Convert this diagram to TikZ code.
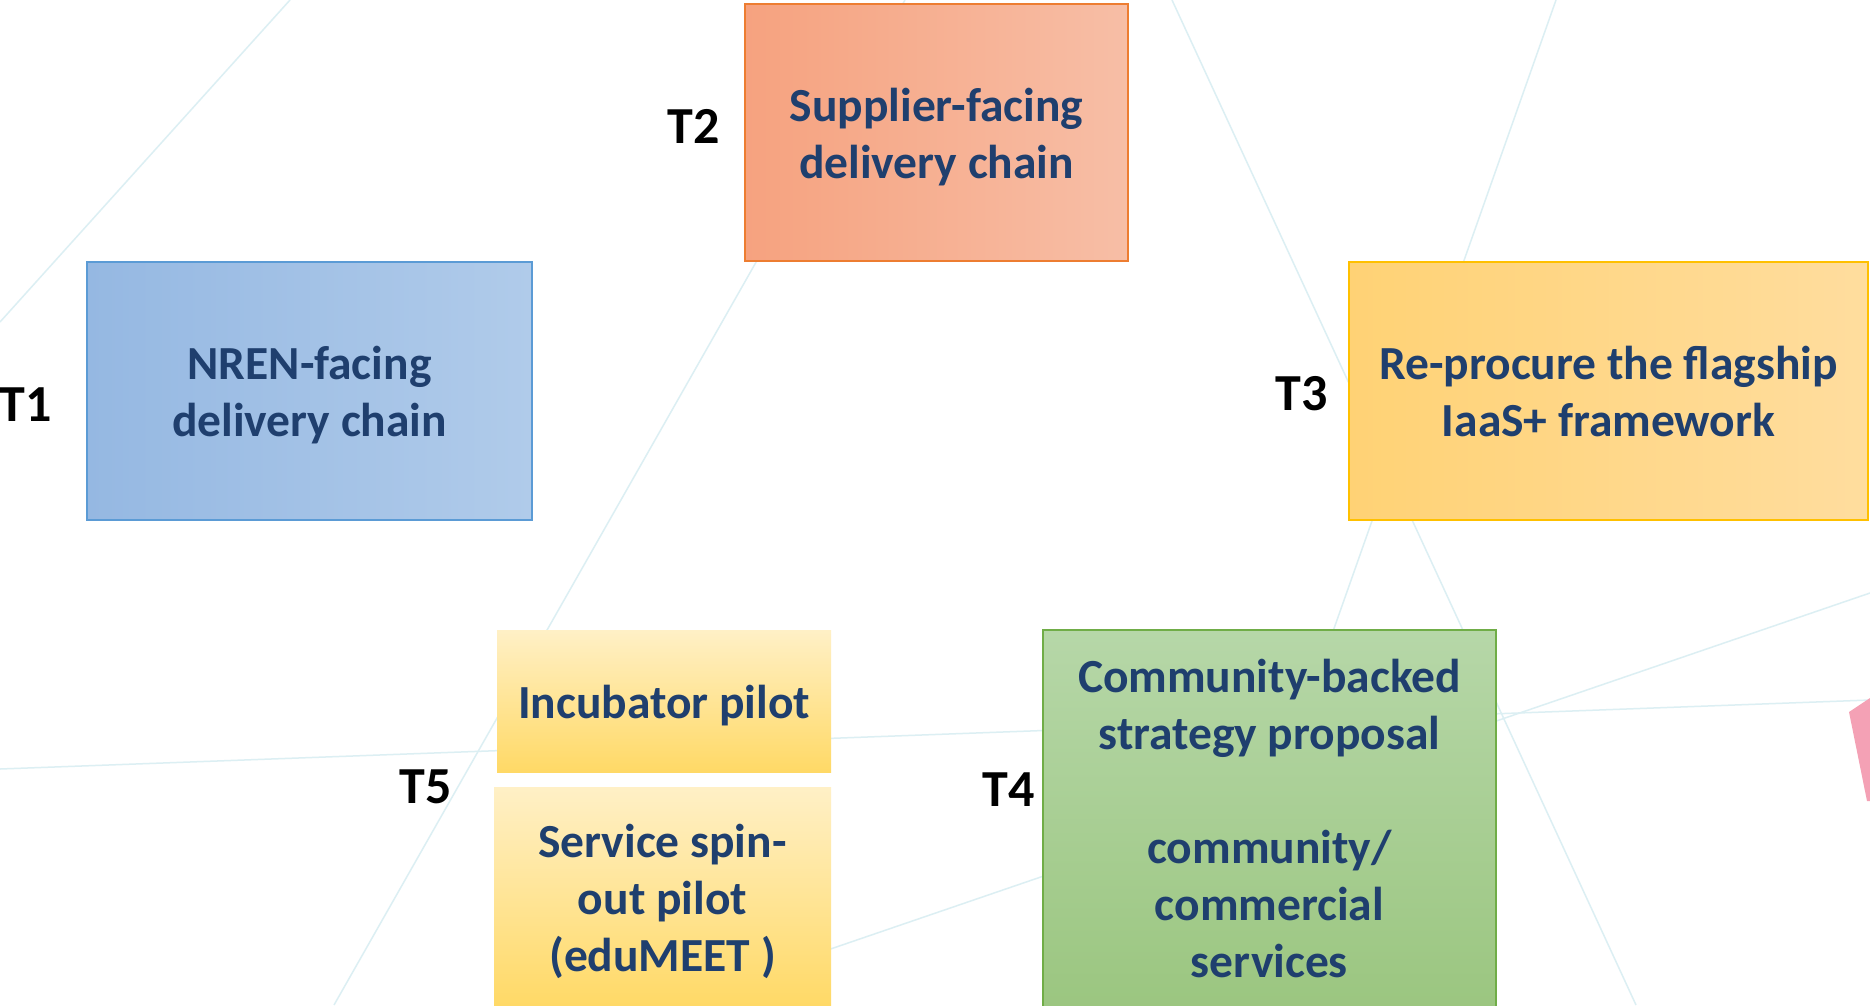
\documentclass[tikz,border=0pt]{standalone}
\usepackage{fontspec}
\setmainfont{Carlito}
\definecolor{txtblue}{HTML}{1F3F6E}
\definecolor{bgline}{HTML}{DCEFF3}
\definecolor{blueL}{HTML}{95B8E2}
\definecolor{blueR}{HTML}{B0CBEA}
\definecolor{blueB}{HTML}{5B9BD5}
\definecolor{orL}{HTML}{F6A27F}
\definecolor{orR}{HTML}{F7BEA6}
\definecolor{orB}{HTML}{ED7D31}
\definecolor{yeL}{HTML}{FFD275}
\definecolor{yeR}{HTML}{FFDD9E}
\definecolor{yeB}{HTML}{FFC000}
\definecolor{grT}{HTML}{B6D7A8}
\definecolor{grB}{HTML}{9BC680}
\definecolor{grE}{HTML}{70AD47}
\definecolor{pyT}{HTML}{FFF0C6}
\definecolor{pyB}{HTML}{FFD966}
\definecolor{pinkc}{HTML}{F4A1B5}
\begin{document}
\begin{tikzpicture}[x=1pt,y=-1pt,
  bgl/.style={draw=bgline, line width=1.5pt},
  box/.style={rectangle, inner sep=0pt, line width=1.5pt},
  boxtext/.style={inner sep=0pt, align=center,
    font=\bfseries\fontsize{47.5}{57}\selectfont, text=txtblue},
  tlabel/.style={inner sep=0pt, font=\bfseries\fontsize{52}{60}\selectfont, text=black}]
\fill[white] (0,0) rectangle (1870,1005);
\useasboundingbox (0,0) rectangle (1870,1005);
% faint background lines
\coordinate (a1) at (0,322);    \coordinate (a2) at (290,0);
\coordinate (b1) at (905,0);    \coordinate (b2) at (334,1005);
\coordinate (c1) at (1172,0);   \coordinate (c2) at (1636,1005);
\coordinate (d1) at (1556,0);   \coordinate (d2) at (1201,1005);
\coordinate (e1) at (0,769);    \coordinate (e2) at (1870,700);
\coordinate (f1) at (667,1005); \coordinate (f2) at (1870,593);
\draw[bgl] (a1) -- (a2);
\draw[bgl] (b1) -- (b2);
\draw[bgl] (c1) -- (c2);
\draw[bgl] (d1) -- (d2);
\draw[bgl] (e1) -- (e2);
\draw[bgl] (f1) -- (f2);
% pink shape at right edge
\fill[pinkc] (1849,712) -- (1870,698) -- (1870,801) -- (1867,801) -- cycle;
% boxes
\node[box, left color=blueL, right color=blueR, draw=blueB,
  minimum width=445pt, minimum height=258pt] (t1) at (309.5,391) {};
\node[box, left color=orL, right color=orR, draw=orB,
  minimum width=383pt, minimum height=257pt] (t2) at (936.5,132.5) {};
\node[box, left color=yeL, right color=yeR, draw=yeB,
  minimum width=519pt, minimum height=258pt] (t3) at (1608.5,391) {};
\node[box, top color=pyT, bottom color=pyB,
  minimum width=334pt, minimum height=142pt] (t5a) at (664,701) {};
\node[box, top color=pyT, bottom color=pyB,
  minimum width=337pt, minimum height=220pt] (t5b) at (662.5,897) {};
\node[box, top color=grT, bottom color=grB, draw=grE,
  minimum width=453pt, minimum height=377pt] (t4) at (1269.5,818.5) {};
% box texts
\node[boxtext] (t1x) at ([yshift=-4pt]t1.center) {NREN-facing\\delivery chain};
\node[boxtext] (t2x) at ([yshift=-4.5pt]t2.center) {Supplier-facing\\delivery chain};
\node[boxtext] (t3x) at ([yshift=-0.5pt]t3.center) {Re-procure the flagship\\IaaS+ framework};
\node[boxtext] (t5ax) at ([yshift=-4.5pt]t5a.center) {Incubator pilot};
\node[boxtext] (t5bx) at ([yshift=-4.5pt]t5b.center) {Service spin-\\out pilot\\(eduMEET )};
\node[boxtext] (t4x) at ([yshift=0pt]t4.center) {Community-backed\\strategy proposal\\[57pt]community/\\commercial\\services};
% labels
\node[tlabel] (l1) at (26,405) {T1};
\node[tlabel] (l2) at (694,126) {T2};
\node[tlabel] (l3) at (1302,394) {T3};
\node[tlabel] (l4) at (1009,790) {T4};
\node[tlabel] (l5) at (426,787) {T5};
\end{tikzpicture}
\end{document}
